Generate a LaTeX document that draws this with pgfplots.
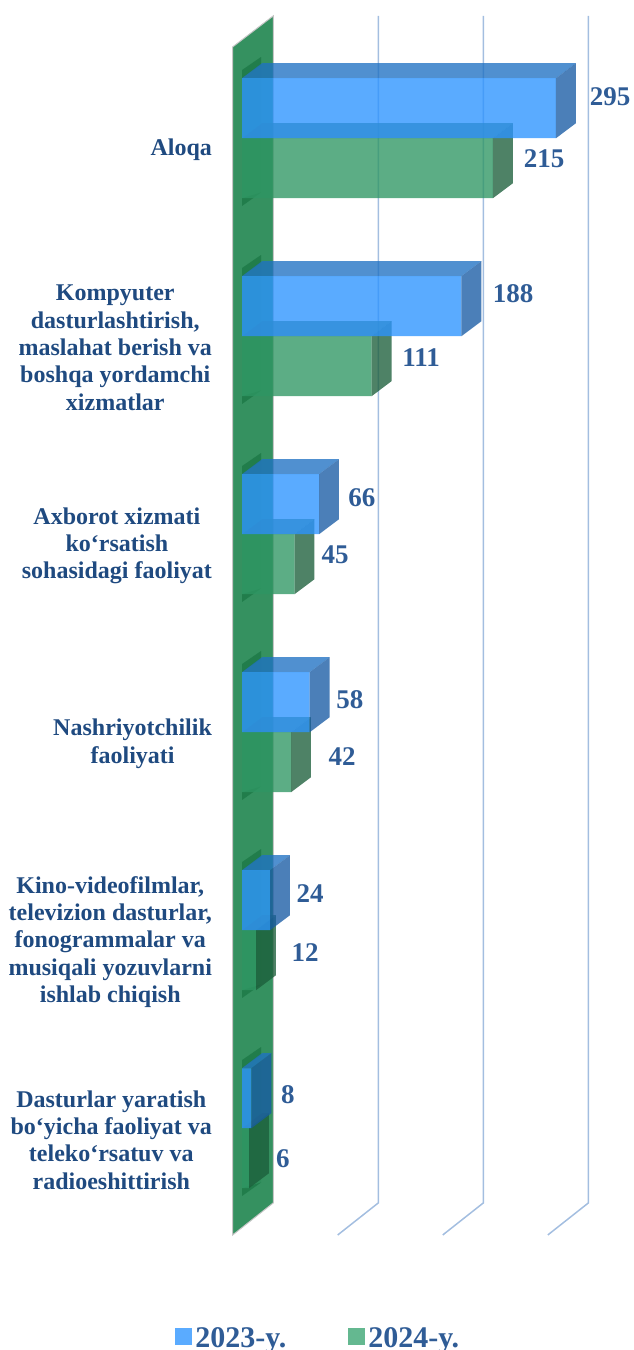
\documentclass[border=0pt]{standalone}
\usepackage{pgfplots}
\usepackage{fontspec}
\setmainfont{Liberation Serif}
\pgfplotsset{compat=1.18}

\definecolor{wall}{HTML}{359160}
\definecolor{wallbase}{HTML}{2F8E5B}
\definecolor{wallshade}{HTML}{217D4B}
\definecolor{gridc}{HTML}{A3BEE0}
\definecolor{lab}{HTML}{2F5C96}
\definecolor{catlab}{HTML}{1F4A80}
\definecolor{bfront}{HTML}{2C93FF}
\definecolor{btop}{HTML}{1F71C3}
\definecolor{bside}{HTML}{185BA4}
\definecolor{gfront}{HTML}{2E9663}
\definecolor{gtop}{HTML}{32784A}
\definecolor{gside}{HTML}{1C5F3B}
\definecolor{legb}{HTML}{5AABFF}
\definecolor{legg}{HTML}{64B890}

% bar lengths as drawn; the top bar is drawn shorter than its label says
\pgfplotstableread{
val y
269 0
188 1
66 2
58 3
24 4
8 5
}\blue
\pgfplotstableread{
val y
215 0
111 1
45 2
42 3
12 4
6 5
}\green

\newcommand{\topface}[4]{% value, top edge y, colour, opacity
  \pgfmathsetmacro\xe{#1+17.1}
  \pgfmathsetmacro\yt{#2-0.0758}
  \addplot[fill=#3, fill opacity=#4, draw=none, forget plot] coordinates {(0,#2) (#1,#2) (\xe,\yt) (17.1,\yt)};
}
\newcommand{\sideface}[4]{% value, top edge y, colour, opacity
  \pgfmathsetmacro\xe{#1+17.1}
  \pgfmathsetmacro\yt{#2-0.0758}
  \pgfmathsetmacro\yb{#2+0.303}
  \pgfmathsetmacro\ybb{\yb-0.0758}
  \addplot[fill=#3, fill opacity=#4, draw=none, forget plot] coordinates {(#1,#2) (\xe,\yt) (\xe,\ybb) (#1,\yb)};
}

\begin{document}
\begin{tikzpicture}
\useasboundingbox (0,0) rectangle (316.5pt,675pt);
\begin{axis}[
  at={(110.5pt,0pt)}, anchor=south west,
  scale only axis,
  width=206pt, height=675pt,
  xmin=-18, xmax=335,
  ymin=-0.698, ymax=6.12,
  y dir=reverse,
  clip=false,
  axis line style={draw=none},
  tick style={draw=none},
  xtick=\empty,
  ytick={0,1,2,3,4,5},
  yticklabels={
    {Aloqa},
    {Kompyuter\\dasturlashtirish,\\maslahat berish va\\boshqa yordamchi\\xizmatlar},
    {Axborot xizmati\\ko‘rsatish\\sohasidagi faoliyat},
    {Nashriyotchilik\\faoliyati},
    {Kino-videofilmlar,\\televizion dasturlar,\\fonogrammalar va\\musiqali yozuvlarni\\ishlab chiqish},
    {Dasturlar yaratish\\bo‘yicha faoliyat va\\teleko‘rsatuv va\\radioeshittirish}
  },
  yticklabel style={
    font=\fontsize{12}{13.65}\selectfont\bfseries, text=catlab, align=center,
    anchor=east, xshift=-1pt, yshift=-5.8pt
  },
  legend style={
    at={(-0.126,-0.0067)}, anchor=south west, legend columns=2, draw=none, fill=none,
    font=\fontsize{15}{15}\selectfont\bfseries, text=lab,
    /tikz/every even column/.append style={column sep=29pt}
  },
]
% back wall
\addplot[fill=wall, draw=gray!45, line width=0.5pt, forget plot] coordinates {
  (-8,-0.461) (26.8,-0.618) (26.8,5.377) (-8,5.539) (-8,-0.461)};

% gridlines
\addplot[gridc, line width=0.75pt, forget plot] coordinates {(82,5.539) (116.8,5.377) (116.8,-0.618)};
\addplot[gridc, line width=0.75pt, forget plot] coordinates {(172,5.539) (206.8,5.377) (206.8,-0.618)};
\addplot[gridc, line width=0.75pt, forget plot] coordinates {(262,5.539) (296.8,5.377) (296.8,-0.618)};

% shadows of the bars on the wall
\foreach \i in {0,...,5} {
  \pgfmathsetmacro\ya{\i-0.344}
  \pgfmathsetmacro\yb{\i-0.41}
  \pgfmathsetmacro\yc{\i+0.274}
  \pgfmathsetmacro\yd{\i+0.342}
  \pgfmathsetmacro\ye{\i-0.37}
  \pgfmathsetmacro\yf{\i-0.303}
  \pgfmathsetmacro\yg{\i+0.303}
  \addplot[fill=wallbase, draw=none, forget plot] coordinates {(0,\ya) (16.3,\yb) (16.3,\yc) (0,\yd)};
  \addplot[fill=wallshade, draw=none, forget plot] coordinates {(0,\ya) (16.3,\yb) (16.3,\ye) (0,\yf)};
  \addplot[fill=wallshade, draw=none, forget plot] coordinates {(0,\yg) (16.3,\yc) (0,\yd)};
}

% green bars
\foreach \v/\i in {215/0,111/1,45/2,42/3,12/4,6/5} {
  \topface{\v}{\i}{gtop}{0.78}
}
\addplot[xbar, bar width=0.303, bar shift=0.1515, fill=gfront, fill opacity=0.78, draw=none, forget plot]
  table[x=val, y=y] {\green};
\foreach \v/\i in {215/0,111/1,45/2,42/3,12/4,6/5} {
  \sideface{\v}{\i}{gside}{0.78}
}

% blue bars
\foreach \v/\i in {269/0,188/1,66/2,58/3,24/4,8/5} {
  \pgfmathsetmacro\yy{\i-0.303}
  \topface{\v}{\yy}{btop}{0.78}
}
\addplot[xbar, bar width=0.303, bar shift=-0.1515, fill=bfront, fill opacity=0.78, draw=none, forget plot]
  table[x=val, y=y] {\blue};
\foreach \v/\i in {269/0,188/1,66/2,58/3,24/4,8/5} {
  \pgfmathsetmacro\yy{\i-0.303}
  \sideface{\v}{\yy}{bside}{0.78}
}

% value labels
\addplot[draw=none, mark=none, forget plot, point meta=explicit symbolic,
  nodes near coords, nodes near coords align=center,
  every node near coord/.append style={font=\fontsize{13.5}{13.5}\selectfont\bfseries, text=lab, anchor=center, inner sep=0pt}]
  table[x=x, y=y, meta=txt] {
x y txt
315.3 -0.209 295
258.8 0.105 215
232.2 0.786 188
153.4 1.109 111
102.8 1.817 66
79.7 2.104 45
92.5 2.837 58
85.7 3.125 42
58.3 3.817 24
54.0 4.115 12
39.4 4.832 8
35.1 5.155 6
};

% legend
\addlegendimage{only marks, mark=square*, mark size=4pt, mark options={draw=legb, fill=legb, yshift=1.2pt}}
\addlegendentry{2023-y.}
\addlegendimage{only marks, mark=square*, mark size=4pt, mark options={draw=legg, fill=legg, yshift=1.2pt}}
\addlegendentry{2024-y.}
\end{axis}
\end{tikzpicture}
\end{document}
